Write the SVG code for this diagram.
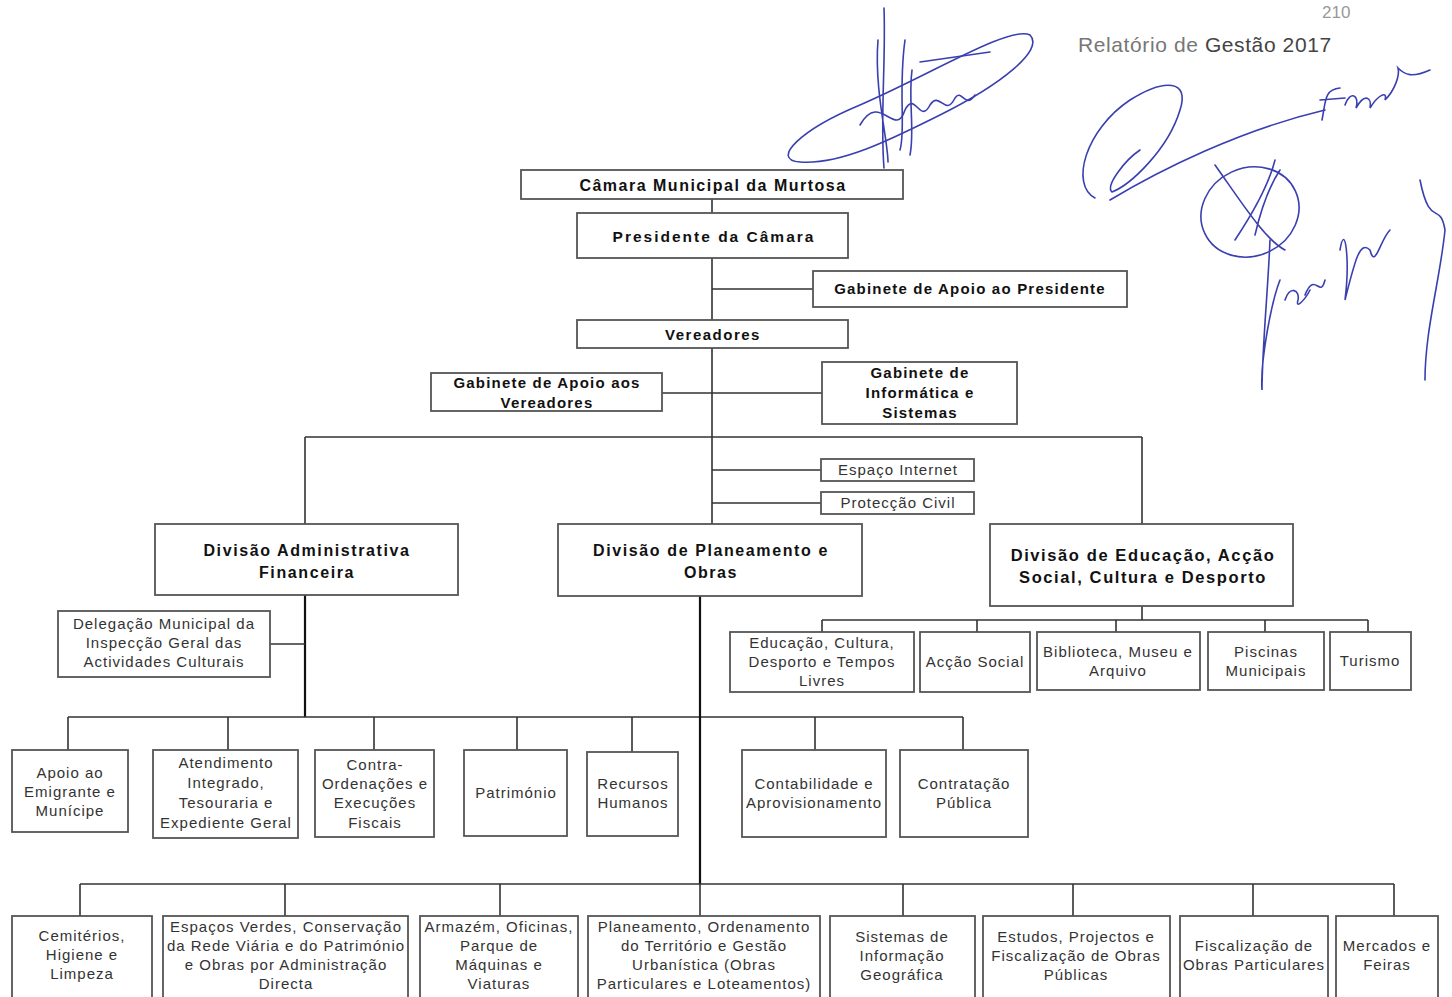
<svg xmlns="http://www.w3.org/2000/svg" width="1452" height="997" viewBox="0 0 1452 997">
<style>
.box{fill:#fff;stroke:#555;stroke-width:1.8}
.ln{stroke:#333;stroke-width:1.6;fill:none}
.lk{stroke:#111;stroke-width:2.2;fill:none}
.b{font-family:"Liberation Sans",Arial,sans-serif;font-weight:bold;fill:#111;text-anchor:middle}
.t{font-family:"Liberation Sans",Arial,sans-serif;font-size:15px;letter-spacing:1px;fill:#333;text-anchor:middle}
.sig{stroke:#3a3fb0;stroke-width:1.6;fill:none;stroke-linecap:round}
</style>
<rect width="1452" height="997" fill="#fff"/>

<text x="1078" y="52" font-family="Liberation Sans,Arial,sans-serif" font-size="21" letter-spacing="0.6" fill="#777">Relatório de <tspan fill="#444">Gestão 2017</tspan></text>
<text x="1322" y="18" font-family="Liberation Sans,Arial,sans-serif" font-size="17" fill="#999">210</text>

<g id="connectors">
<path class="ln" d="M712,199V437M712,289H813M662,393H822M305,437H1142M305,437V524M1142,437V524M712,437V524M712,470H821M712,503H821"/>
<path class="ln" d="M1142,606V620M822,620H1368M822,620V632M977,620V632M1116,620V632M1265,620V632M1368,620V632"/>
<path class="lk" d="M305,595V717"/>
<path class="ln" d="M270,644H305M68,717H963M68,717V750M228,717V750M374,717V750M517,717V750M632,717V752M815,717V750M963,717V750"/>
<path class="lk" d="M700,596V884"/>
<path class="ln" d="M80,884H1394M80,884V916M285,884V916M500,884V916M700,884V916M903,884V916M1073,884V916M1253,884V916M1394,884V916"/>
</g>

<g id="camara"><rect class="box" x="521" y="170" width="382" height="29"/><text class="b" x="713" y="191" font-size="16" letter-spacing="1.5">Câmara Municipal da Murtosa</text></g>
<g id="presidente"><rect class="box" x="577" y="213" width="271" height="45"/><text class="b" x="714" y="242" font-size="15.5" letter-spacing="2">Presidente da Câmara</text></g>
<g id="gab-presidente"><rect class="box" x="813" y="271" width="314" height="36"/><text class="b" x="970" y="294" font-size="15" letter-spacing="1.2">Gabinete de Apoio ao Presidente</text></g>
<g id="vereadores"><rect class="box" x="577" y="320" width="271" height="28"/><text class="b" x="713" y="340" font-size="15" letter-spacing="1.5">Vereadores</text></g>
<g id="gab-vereadores"><rect class="box" x="431" y="373" width="231" height="38"/><text class="b" x="547" y="388" font-size="15" letter-spacing="1.2">Gabinete de Apoio aos</text><text class="b" x="547" y="408" font-size="15" letter-spacing="1.2">Vereadores</text></g>
<g id="gab-informatica"><rect class="box" x="822" y="362" width="195" height="62"/><text class="b" x="920" y="378" font-size="15" letter-spacing="1.2">Gabinete de</text><text class="b" x="920" y="398" font-size="15" letter-spacing="1.2">Informática e</text><text class="b" x="920" y="418" font-size="15" letter-spacing="1.2">Sistemas</text></g>
<g id="espaco-internet"><rect class="box" x="821" y="459" width="153" height="22"/><text class="t" x="898" y="475">Espaço Internet</text></g>
<g id="proteccao-civil"><rect class="box" x="821" y="492" width="153" height="22"/><text class="t" x="898" y="508">Protecção Civil</text></g>

<g id="div-admin"><rect class="box" x="155" y="524" width="303" height="71"/><text class="b" x="307" y="556" font-size="16" letter-spacing="1.6">Divisão Administrativa</text><text class="b" x="307" y="578" font-size="16" letter-spacing="1.6">Financeira</text></g>
<g id="div-planeamento"><rect class="box" x="558" y="524" width="304" height="72"/><text class="b" x="711" y="556" font-size="16" letter-spacing="1.6">Divisão de Planeamento e</text><text class="b" x="711" y="578" font-size="16" letter-spacing="1.6">Obras</text></g>
<g id="div-educacao"><rect class="box" x="990" y="524" width="303" height="82"/><text class="b" x="1143" y="561" font-size="16.5" letter-spacing="1.6">Divisão de Educação, Acção</text><text class="b" x="1143" y="583" font-size="16.5" letter-spacing="1.6">Social, Cultura e Desporto</text></g>

<g id="delegacao"><rect class="box" x="58" y="611" width="212" height="66"/><text class="t" x="164" y="629">Delegação Municipal da</text><text class="t" x="164" y="648">Inspecção Geral das</text><text class="t" x="164" y="667">Actividades Culturais</text></g>

<g id="edu-cultura"><rect class="box" x="730" y="632" width="184" height="60"/><text class="t" x="822" y="648">Educação, Cultura,</text><text class="t" x="822" y="667">Desporto e Tempos</text><text class="t" x="822" y="686">Livres</text></g>
<g id="accao-social"><rect class="box" x="920" y="632" width="110" height="60"/><text class="t" x="975" y="667" letter-spacing="0">Acção Social</text></g>
<g id="biblioteca"><rect class="box" x="1037" y="632" width="163" height="58"/><text class="t" x="1118" y="657">Biblioteca, Museu e</text><text class="t" x="1118" y="676">Arquivo</text></g>
<g id="piscinas"><rect class="box" x="1208" y="632" width="116" height="58"/><text class="t" x="1266" y="657">Piscinas</text><text class="t" x="1266" y="676">Municipais</text></g>
<g id="turismo"><rect class="box" x="1330" y="632" width="81" height="58"/><text class="t" x="1370" y="666">Turismo</text></g>

<g id="apoio-emigrante"><rect class="box" x="12" y="750" width="116" height="82"/><text class="t" x="70" y="778">Apoio ao</text><text class="t" x="70" y="797">Emigrante e</text><text class="t" x="70" y="816">Munícipe</text></g>
<g id="atendimento"><rect class="box" x="153" y="750" width="145" height="88"/><text class="t" x="226" y="768">Atendimento</text><text class="t" x="226" y="788">Integrado,</text><text class="t" x="226" y="808">Tesouraria e</text><text class="t" x="226" y="828">Expediente Geral</text></g>
<g id="contra-ordenacoes"><rect class="box" x="315" y="750" width="119" height="87"/><text class="t" x="375" y="770">Contra-</text><text class="t" x="375" y="789">Ordenações e</text><text class="t" x="375" y="808">Execuções</text><text class="t" x="375" y="828">Fiscais</text></g>
<g id="patrimonio"><rect class="box" x="464" y="750" width="103" height="86"/><text class="t" x="516" y="798">Património</text></g>
<g id="recursos-humanos"><rect class="box" x="587" y="752" width="91" height="84"/><text class="t" x="633" y="789">Recursos</text><text class="t" x="633" y="808">Humanos</text></g>
<g id="contabilidade"><rect class="box" x="742" y="750" width="144" height="87"/><text class="t" x="814" y="789">Contabilidade e</text><text class="t" x="814" y="808" letter-spacing="0.8">Aprovisionamento</text></g>
<g id="contratacao"><rect class="box" x="900" y="750" width="128" height="87"/><text class="t" x="964" y="789">Contratação</text><text class="t" x="964" y="808">Pública</text></g>

<g id="cemiterios"><rect class="box" x="12" y="916" width="140" height="90"/><text class="t" x="82" y="941">Cemitérios,</text><text class="t" x="82" y="960">Higiene e</text><text class="t" x="82" y="979">Limpeza</text></g>
<g id="espacos-verdes"><rect class="box" x="163" y="916" width="245" height="90"/><text class="t" x="286" y="932">Espaços Verdes, Conservação</text><text class="t" x="286" y="951">da Rede Viária e do Património</text><text class="t" x="286" y="970">e Obras por Administração</text><text class="t" x="286" y="989">Directa</text></g>
<g id="armazem"><rect class="box" x="420" y="916" width="158" height="90"/><text class="t" x="499" y="932">Armazém, Oficinas,</text><text class="t" x="499" y="951">Parque de</text><text class="t" x="499" y="970">Máquinas e</text><text class="t" x="499" y="989">Viaturas</text></g>
<g id="planeamento-ordenamento"><rect class="box" x="588" y="916" width="232" height="90"/><text class="t" x="704" y="932">Planeamento, Ordenamento</text><text class="t" x="704" y="951">do Território e Gestão</text><text class="t" x="704" y="970">Urbanística (Obras</text><text class="t" x="704" y="989">Particulares e Loteamentos)</text></g>
<g id="sig"><rect class="box" x="830" y="916" width="145" height="90"/><text class="t" x="902" y="942">Sistemas de</text><text class="t" x="902" y="961">Informação</text><text class="t" x="902" y="980">Geográfica</text></g>
<g id="estudos"><rect class="box" x="983" y="916" width="187" height="90"/><text class="t" x="1076" y="942">Estudos, Projectos e</text><text class="t" x="1076" y="961">Fiscalização de Obras</text><text class="t" x="1076" y="980">Públicas</text></g>
<g id="fiscalizacao"><rect class="box" x="1180" y="916" width="148" height="90"/><text class="t" x="1254" y="951">Fiscalização de</text><text class="t" x="1254" y="970" letter-spacing="0.6">Obras Particulares</text></g>
<g id="mercados"><rect class="box" x="1336" y="916" width="102" height="90"/><text class="t" x="1387" y="951" letter-spacing="0.6">Mercados e</text><text class="t" x="1387" y="970">Feiras</text></g>

<g id="signatures">
<path class="sig" d="M800,162 C770,160 800,130 860,105 C930,75 1010,25 1030,35 C1045,50 1000,85 940,115 C890,140 840,165 800,162 Z"/>
<path class="sig" d="M920,62 L990,52"/>
<path class="sig" d="M884,8 C886,60 880,120 884,168 M878,40 C874,90 888,140 888,162 M905,40 C898,90 906,130 900,150 M912,70 C908,100 915,130 910,155"/>
<path class="sig" d="M860,125 C880,90 895,140 905,110 C915,90 920,125 930,105 C940,90 945,118 955,98 C962,88 965,110 975,95"/>
<path class="sig" d="M1095,198 C1070,185 1085,130 1130,100 C1165,78 1190,80 1180,110 C1168,150 1130,185 1112,192 C1105,186 1125,160 1140,150"/>
<path class="sig" d="M1110,200 C1160,170 1240,130 1325,110"/>
<path class="sig" d="M1322,120 C1326,100 1324,90 1340,88 M1320,100 L1345,98 M1345,105 C1350,90 1360,95 1356,108 C1365,92 1372,98 1370,108 C1378,95 1388,90 1385,100 C1395,90 1400,75 1398,68 C1405,75 1412,78 1430,70"/>
<ellipse class="sig" cx="1250" cy="212" rx="50" ry="44" transform="rotate(-25 1250 212)"/>
<path class="sig" d="M1215,165 C1240,200 1265,240 1285,250 M1235,240 C1255,210 1270,180 1275,160 M1255,235 C1262,205 1270,185 1280,170"/>
<path class="sig" d="M1270,240 C1268,290 1262,350 1262,390 C1260,360 1272,300 1280,280 M1285,300 C1290,285 1300,290 1298,300 C1295,310 1305,300 1310,290 M1305,295 C1315,270 1320,300 1325,280 M1340,250 C1345,220 1350,260 1345,300 C1355,260 1360,240 1370,250 C1375,270 1380,240 1390,230 M1420,180 C1430,230 1440,200 1445,230 C1440,280 1425,330 1425,380"/>
</g>
</svg>
